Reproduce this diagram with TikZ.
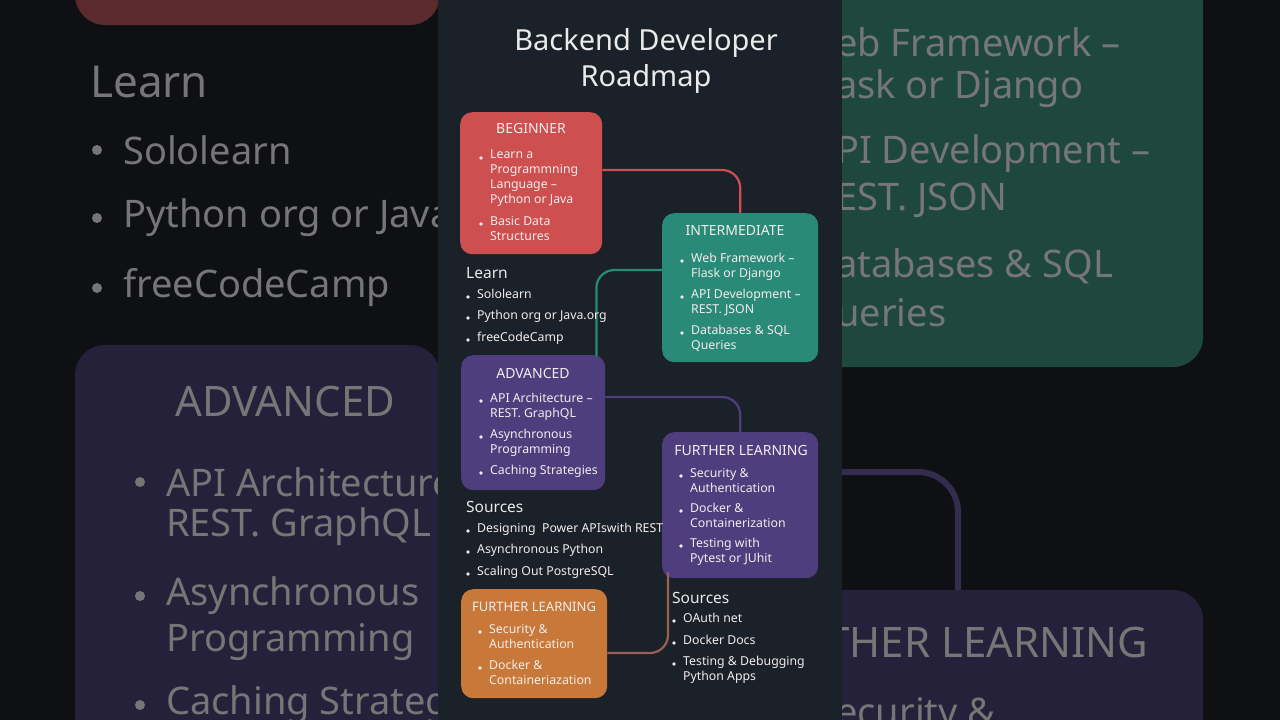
\documentclass[tikz,border=0pt]{standalone}
\usepackage{fontspec}
\setmainfont{Noto Sans}
\usetikzlibrary{calc}
\definecolor{bgout}{HTML}{0F1013}
\definecolor{panel}{HTML}{1B2129}
\definecolor{cred}{HTML}{CD4F50}
\definecolor{cteal}{HTML}{2A8A78}
\definecolor{cpurp}{HTML}{4F3E7E}
\definecolor{corange}{HTML}{C8793A}
\definecolor{txt}{HTML}{EAEAEA}
\definecolor{boxtxt}{HTML}{F3ECEC}
\definecolor{dimtxt}{HTML}{767676}
\tikzset{
  box/.style={rounded corners=12, draw=none, anchor=north west, inner sep=0pt},
  ttl/.style={text=boxtxt, font=\fontsize{14}{16}\selectfont, anchor=center},
  itm/.style={text=boxtxt, font=\fontsize{12.3}{15}\selectfont, anchor=north west, align=left, inner sep=0pt},
  hd/.style={text=txt, font=\fontsize{15.5}{18}\selectfont, anchor=west, inner sep=0pt},
  dot/.style={circle, fill=#1, inner sep=0pt, minimum size=3.6pt},
  link/.style={line width=2.2pt, rounded corners=18},
  big/.style={text=dimtxt, font=\fontsize{38}{46}\selectfont, anchor=west, inner sep=0pt},
}
\newcommand{\bul}[4]{\node[dot=#4] at (#1-9,#2+11) {}; \node[itm] at (#1,#2+3) {#3};}
\begin{document}
\begin{tikzpicture}[x=1pt,y=-1pt]
\useasboundingbox (0,0) rectangle (1280,720);
\fill[bgout] (0,0) rectangle (1280,720);
% blurred side content
\fill[rounded corners=30, fill={rgb,255:red,90;green,42;blue,44}] (75,-40) rectangle (440,25);
\node[big, font=\fontsize{44}{50}\selectfont] (sl) at (90,82) {Learn};
\foreach \t/\y in {Sololearn/150, Python org or Java/218, freeCodeCamp/288}{
  \fill[dimtxt] (97,\y) circle (5);
  \node[big] at (123,\y) {\t};}
\fill[rounded corners=30, fill={rgb,255:red,38;green,33;blue,58}] (75,345) rectangle (440,760);
\node[big, font=\fontsize{42}{50}\selectfont] (sa) at (175,402) {ADVANCED};
\foreach \t/\y in {API Architecture/482, Asynchronous/596, Caching Strategies/705}{
  \fill[dimtxt] (140,\y) circle (5);
  \node[big] at (166,\y) {\t};}
\node[big] at (166,527) {REST. GraphQL};
\node[big] at (166,642) {Programming};
\fill[rounded corners=30, fill={rgb,255:red,30;green,72;blue,62}] (790,-40) rectangle (1203,367);
\foreach \t/\y in {eb Framework --/42, ask or Django/89, PI Development --/154, EST. JSON/200, atabases \& SQL/266, ueries/313}{
  \node[big] at (836,\y) {\t};}
\draw[line width=6pt, rounded corners=40, color={rgb,255:red,52;green,44;blue,78}] (842,472) -- (958,472) -- (958,600);
\fill[rounded corners=30, fill={rgb,255:red,38;green,33;blue,58}] (790,590) rectangle (1203,760);
\node[big, font=\fontsize{42}{50}\selectfont] at (826,642) {THER LEARNING};
\node[big] at (836,716) {ecurity \&};
% central panel
\fill[panel] (438,0) rectangle (842,720);
\node[text=txt, font=\fontsize{29}{36}\selectfont, align=center] (title) at (646,61) {Backend Developer\\Roadmap};
% boxes
\node[box, fill=cred, minimum width=142pt, minimum height=142pt] (beg) at (460,112) {};
\node[box, fill=cteal, minimum width=156pt, minimum height=149pt] (int) at (662,213) {};
\node[box, fill=cpurp, minimum width=144pt, minimum height=135pt] (adv) at (461,355) {};
\node[box, fill=cpurp, minimum width=156pt, minimum height=146pt] (fl) at (662,432) {};
\node[box, fill=corange, minimum width=146pt, minimum height=109pt] (fo) at (461,589) {};
% connectors
\draw[link, cred] ($(beg.north east)+(0,58)$) -| (int.north);
\draw[link, cteal] ($(int.north west)+(0,57)$) -| ($(adv.north east)+(-9,1)$);
\draw[link, cpurp] ($(adv.north east)+(0,42)$) -| (fl.north);
\draw[link, corange!60!cpurp] ($(fo.north east)+(0,64)$) -| ($(fl.south west)+(6,-6)$);
% Beginner
\node[ttl] (begt) at (531,129) {BEGINNER};
\bul{490}{147}{Learn a\\Programmning\\Language --\\Python or Java}{boxtxt}
\bul{490}{213}{Basic Data\\Structures}{boxtxt}
% Intermediate
\node[ttl] (intt) at (735,230) {INTERMEDIATE};
\bul{691}{250}{Web Framework --\\Flask or Django}{boxtxt}
\bul{691}{286}{API Development --\\REST. JSON}{boxtxt}
\bul{691}{322}{Databases \& SQL\\Queries}{boxtxt}
% Learn
\node[hd] (lh) at (466,273) {Learn};
\bul{477}{286}{Sololearn}{txt}
\bul{477}{307}{Python org or Java.org}{txt}
\bul{477}{329}{freeCodeCamp}{txt}
% Advanced
\node[ttl] (advt) at (533,373) {ADVANCED};
\bul{490}{390}{API Architecture --\\REST. GraphQL}{boxtxt}
\bul{490}{426}{Asynchronous\\Programming}{boxtxt}
\bul{490}{462}{Caching Strategies}{boxtxt}
% Further learning purple
\node[ttl] (flt) at (741,450) {FURTHER LEARNING};
\bul{690}{465}{Security \&\\Authentication}{boxtxt}
\bul{690}{500}{Docker \&\\Containerization}{boxtxt}
\bul{690}{535}{Testing with\\Pytest or JUhit}{boxtxt}
% Sources 1
\node[hd] (s1) at (466,507) {Sources};
\bul{477}{520}{Designing\ \ Power APIswith REST}{txt}
\bul{477}{541}{Asynchronous Python}{txt}
\bul{477}{563}{Scaling Out PostgreSQL}{txt}
% Further learning orange
\node[ttl, font=\fontsize{13}{15}\selectfont] (fot) at (534,607) {FURTHER LEARNING};
\bul{489}{621}{Security \&\\Authentication}{boxtxt}
\bul{489}{657}{Docker \&\\Containeriazation}{boxtxt}
% Sources 2
\node[hd] (s2) at (672,598) {Sources};
\bul{683}{610}{OAuth net}{txt}
\bul{683}{632}{Docker Docs}{txt}
\bul{683}{653}{Testing \& Debugging\\Python Apps}{txt}
\end{tikzpicture}
\end{document}
